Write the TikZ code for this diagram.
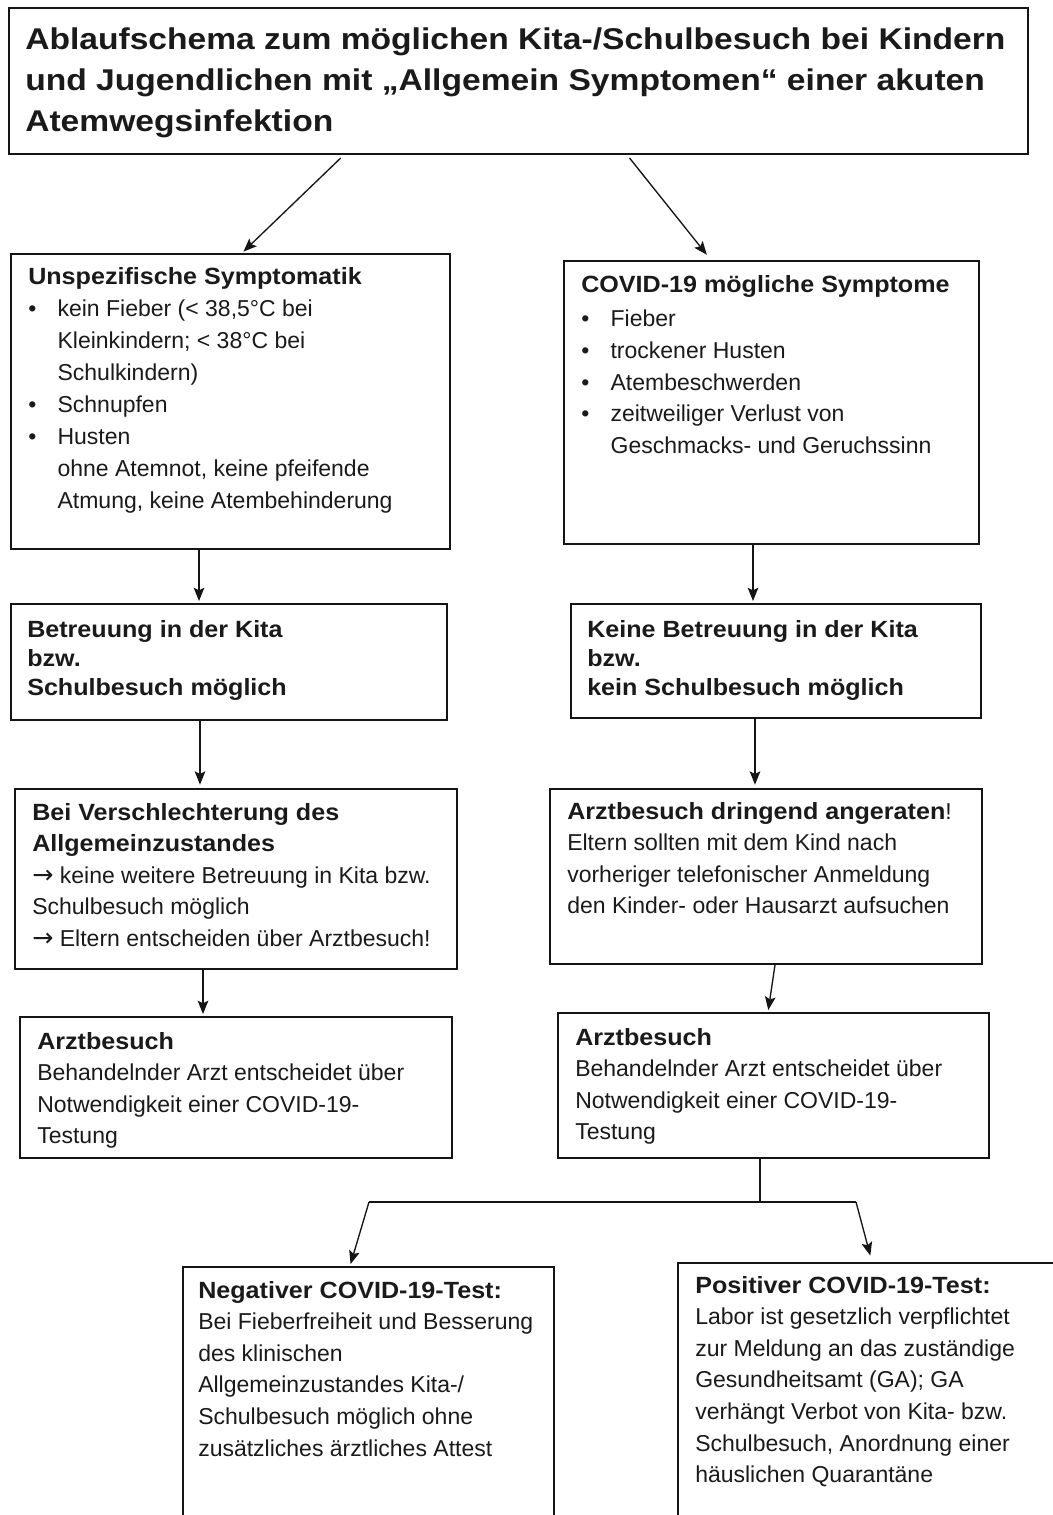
\documentclass[tikz,border=0pt]{standalone}
\usepackage{fontspec}
\setmainfont{Liberation Sans}
\newfontfamily\titlefam{Liberation Sans}[FakeStretch=1.12]
\newfontfamily\headfam{Liberation Sans}[FakeStretch=1.07]
\newfontfamily\arrfam{DejaVu Sans}
\usetikzlibrary{arrows.meta}
\definecolor{ink}{HTML}{1A1A1A}
\definecolor{lin}{HTML}{151515}
\newcommand\fb{\fontsize{17.25pt}{23.7pt}\selectfont}
\newcommand\fh{\headfam\bfseries\fontsize{17.6pt}{23.7pt}\selectfont}
\newcommand\ft{\titlefam\bfseries\fontsize{22.5pt}{30.4pt}\selectfont}
\newcommand\bul{\makebox[22pt][l]{•}}
\newcommand\ind{\hspace*{22pt}}
\newcommand\ra{{\arrfam\fontsize{19pt}{23.7pt}\selectfont →}}
\newcommand\tb[1]{\parbox[t]{800pt}{\raggedright\hyphenpenalty=10000 \fb #1}}
\newcommand\boxnode[5]{\node[flowbox,minimum width=#4*0.75pt,minimum height=#5*0.75pt] (#1) at (#2,#3) {};}
\tikzset{
  flowbox/.style={draw=lin, line width=1.4pt, anchor=north west, inner sep=0pt, fill=none},
  txt/.style={anchor=base west, inner sep=0pt, text=ink},
  arr/.style={draw=lin, line width=1pt, -{Stealth[length=10pt,width=8pt,inset=2pt]}, shorten >=1.5pt},
  conn/.style={draw=lin, line width=1pt}
}
\begin{document}
\begin{tikzpicture}[x=0.75pt,y=-0.75pt]
\useasboundingbox (0,0) rectangle (1052,1515);
\fill[white] (0,0) rectangle (1052,1515);

% boxes
\boxnode{T}{8}{7}{1019}{146}
\boxnode{L1}{10}{253}{439}{295}
\boxnode{R1}{563}{260}{415}{283}
\boxnode{L2}{10}{603}{436}{116}
\boxnode{R2}{570}{603}{410}{114}
\boxnode{L3}{14}{788}{442}{180}
\boxnode{R3}{549}{788}{432}{175}
\boxnode{L4}{19}{1016}{432}{141}
\boxnode{R4}{557}{1012}{431}{145}
\boxnode{L5}{182}{1266}{371}{270}
\boxnode{R5}{677}{1262}{400}{274}

% texts
\node[txt] (Tt) at (25,50) {\tb{\ft Ablaufschema zum möglichen Kita-/Schulbesuch bei Kindern\\
und Jugendlichen mit „Allgemein Symptomen“ einer akuten\\
Atemwegsinfektion}};

\node[txt] (L1t) at (28,285) {\tb{{\fh Unspezifische Symptomatik}\\
\fontsize{17.25pt}{24pt}\selectfont
\bul kein Fieber (< 38,5°C bei\\
\ind Kleinkindern; < 38°C bei\\
\ind Schulkindern)\\
\bul Schnupfen\\
\bul Husten\\
\ind ohne Atemnot, keine pfeifende\\
\ind Atmung, keine Atembehinderung}};

\node[txt] (R1t) at (581,293) {\tb{{\fh COVID-19 mögliche Symptome}\\[1.5pt]
\fontsize{17.25pt}{23.8pt}\selectfont
\bul Fieber\\
\bul trockener Husten\\
\bul Atembeschwerden\\
\bul zeitweiliger Verlust von\\
\ind Geschmacks- und Geruchssinn}};

\node[txt] (L2t) at (27,637) {\tb{\headfam\bfseries\fontsize{17.6pt}{21.75pt}\selectfont
Betreuung in der Kita\\ bzw.\\ Schulbesuch möglich}};

\node[txt] (R2t) at (587,637) {\tb{\headfam\bfseries\fontsize{17.6pt}{21.75pt}\selectfont
Keine Betreuung in der Kita\\ bzw.\\ kein Schulbesuch möglich}};

\node[txt] (L3t) at (32,820) {\tb{{\fh Bei Verschlechterung des}\\
{\fh Allgemeinzustandes}\\
\ra\ keine weitere Betreuung in Kita bzw.\\
Schulbesuch möglich\\
\ra\ Eltern entscheiden über Arztbesuch!}};

\node[txt] (R3t) at (567,819) {\tb{{\fh Arztbesuch dringend angeraten}!\\
Eltern sollten mit dem Kind nach\\
vorheriger telefonischer Anmeldung\\
den Kinder- oder Hausarzt aufsuchen}};

\node[txt] (L4t) at (37,1049) {\tb{{\fh Arztbesuch}\\
Behandelnder Arzt entscheidet über\\
Notwendigkeit einer COVID-19-\\
Testung}};

\node[txt] (R4t) at (575,1045) {\tb{{\fh Arztbesuch}\\
Behandelnder Arzt entscheidet über\\
Notwendigkeit einer COVID-19-\\
Testung}};

\node[txt] (L5t) at (198,1298) {\tb{{\fh Negativer COVID-19-Test:}\\
Bei Fieberfreiheit und Besserung\\
des klinischen\\
Allgemeinzustandes Kita-/\\
Schulbesuch möglich ohne\\
zusätzliches ärztliches Attest}};

\node[txt] (R5t) at (695,1293) {\tb{{\fh Positiver COVID-19-Test:}\\
Labor ist gesetzlich verpflichtet\\
zur Meldung an das zuständige\\
Gesundheitsamt (GA); GA\\
verhängt Verbot von Kita- bzw.\\
Schulbesuch, Anordnung einer\\
häuslichen Quarantäne}};

% connector x positions
\coordinate (xa1s) at (344,0);
\coordinate (xa1e) at (242,0);
\coordinate (xa2s) at (627,0);
\coordinate (xa2e) at (711,0);
\coordinate (xL12) at (199,0);
\coordinate (xR12) at (753,0);
\coordinate (xL23) at (200,0);
\coordinate (xR23) at (755,0);
\coordinate (xL34) at (203,0);
\coordinate (xR34s) at (775,0);
\coordinate (xR34e) at (768,0);
\coordinate (j) at (760,1202);
\coordinate (jl) at (369,1202);
\coordinate (jr) at (856,1202);
\coordinate (xL5) at (350,0);
\coordinate (xR5) at (872,0);

% connectors
\draw[arr,shorten <=3.5pt] (T.south -| xa1s) -- (L1.north -| xa1e);
\draw[arr,shorten <=3pt,shorten >=5pt] (T.south -| xa2s) -- (R1.north -| xa2e);
\draw[arr] (L1.south -| xL12) -- (L2.north -| xL12);
\draw[arr] (R1.south -| xR12) -- (R2.north -| xR12);
\draw[arr,shorten >=2.5pt] (L2.south -| xL23) -- (L3.north -| xL23);
\draw[arr,shorten >=2.5pt] (R2.south -| xR23) -- (R3.north -| xR23);
\draw[arr] (L3.south -| xL34) -- (L4.north -| xL34);
\draw[arr] (R3.south -| xR34s) -- (R4.north -| xR34e);
\draw[conn] (R4.south -| j) -- (j);
\draw[conn] (jl) -- (jr);
\draw[arr] (jl) -- (L5.north -| xL5);
\draw[arr,shorten >=5pt] (jr) -- (R5.north -| xR5);
\end{tikzpicture}
\end{document}
